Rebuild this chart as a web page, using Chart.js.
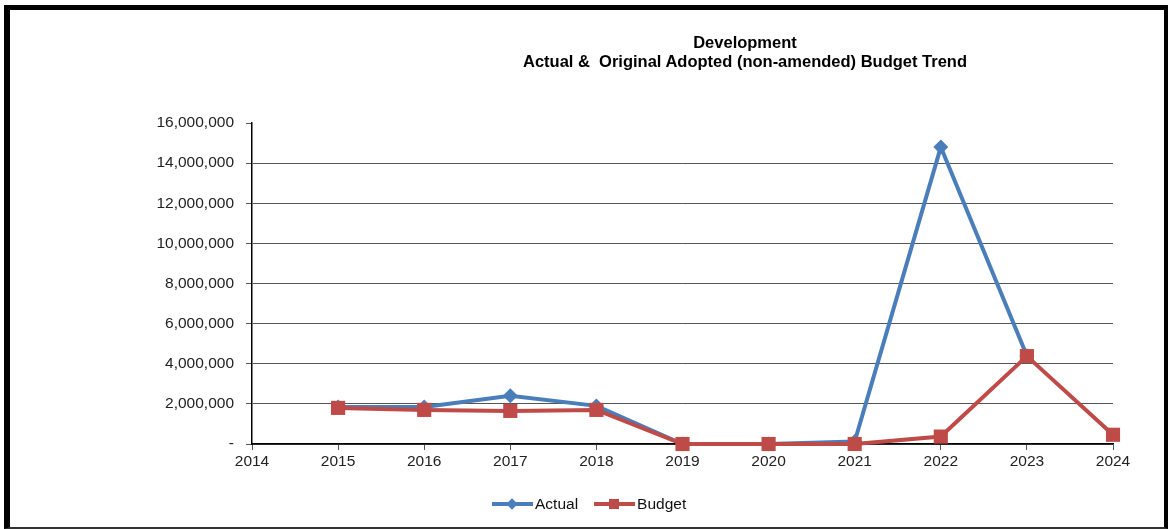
<!DOCTYPE html>
<html>
<head>
<meta charset="utf-8">
<script src="https://cdn.jsdelivr.net/npm/chart.js@4"></script>
<style>
  html, body { margin: 0; padding: 0; background: #fff; }
  #wrap { position: relative; width: 1168px; height: 529px; overflow: hidden; font-family: "Liberation Sans", Arial, sans-serif; }
  #frame { position: absolute; left: 4px; top: 5px; width: 1164px; height: 524px; box-sizing: border-box;
    border-left: 6px solid #000; border-top: 5px solid #000; border-right: 4px solid #000; border-bottom: 2px solid #333; }
  #title { position: absolute; left: 480px; width: 530px; top: 33px; text-align: center; font-weight: bold;
    font-size: 16.5px; line-height: 19px; color: #000; white-space: pre; }
  #legend { position: absolute; top: 495px; left: 492px; font-size: 15.5px; color: #111; display: flex; align-items: center; }
  .item { display: flex; align-items: center; margin-right: 16px; }
  .sw { position: relative; width: 41px; height: 18px; margin-right: 2px; }
  .sw .ln { position: absolute; left: 0; right: 0; top: 7px; height: 4px; }
  .sw .mk { position: absolute; }
  #c { position: absolute; left: 0; top: 0; }
</style>
</head>
<body>
<div id="wrap">
  <canvas id="c" width="1168" height="529"></canvas>
  <div id="title">Development
Actual &amp;  Original Adopted (non-amended) Budget Trend</div>
  <div id="legend">
    <div class="item"><div class="sw"><div class="ln" style="background:#4a7ebb"></div><div class="mk" style="left:16px;top:5px;width:8px;height:8px;background:#4a7ebb;transform:rotate(45deg)"></div></div>Actual</div>
    <div class="item"><div class="sw"><div class="ln" style="background:#be4b48"></div><div class="mk" style="left:15px;top:4px;width:10px;height:10px;background:#be4b48"></div></div>Budget</div>
  </div>
  <div id="frame"></div>
</div>
<script>
const years = ["2014", "2015", "2016", "2017", "2018", "2019", "2020", "2021", "2022", "2023", "2024"];
const actual = [null, 1850000, 1850000, 2400000, 1900000, 0, 0, 120000, 14800000, 4400000, null];
const budget = [null, 1800000, 1700000, 1650000, 1700000, 0, 0, 0, 370000, 4380000, 460000];
const yTicks = [0, 2000000, 4000000, 6000000, 8000000, 10000000, 12000000, 14000000, 16000000];

const blue = "#4a7ebb";
const red = "#be4b48";

new Chart(document.getElementById("c"), {
  type: "line",
  data: {
    labels: years,
    datasets: [
      {
        label: "Actual",
        data: actual,
        borderColor: blue,
        backgroundColor: blue,
        borderWidth: 4,
        pointStyle: "rectRot",
        pointRadius: 7.5,
        pointBorderWidth: 0,
        order: 2,
        tension: 0,
        clip: false,
      },
      {
        label: "Budget",
        data: budget,
        borderColor: red,
        backgroundColor: red,
        borderWidth: 4,
        pointStyle: "rect",
        pointRadius: 10,
        pointBorderWidth: 0,
        order: 1,
        tension: 0,
        clip: false,
      },
    ],
  },
  options: {
    responsive: false,
    animation: false,
    layout: { padding: { top: 123, right: 55, left: 0, bottom: 0 } },
    plugins: {
      legend: { display: false },
      title: { display: false },
      tooltip: { enabled: false },
    },
    scales: {
      x: {
        offset: false,
        afterFit: (scale) => { scale.height = 85; },
        grid: { drawOnChartArea: false, drawTicks: true, tickLength: 6, color: "#555" },
        border: { color: "#000", width: 1.5 },
        ticks: { font: { family: "Liberation Sans", size: 15.5 }, color: "#222", padding: 2, maxRotation: 0, autoSkip: false },
      },
      y: {
        min: 0,
        max: 16000000,
        afterFit: (scale) => { scale.width = 252; },
        afterBuildTicks: (scale) => { scale.ticks = yTicks.map((v) => ({ value: v })); },
        grid: {
          color: (ctx) => (ctx.tick && ctx.tick.value === 16000000 ? "rgba(0,0,0,0)" : "#555"),
          tickColor: "#555",
          tickLength: 6,
          lineWidth: 1,
        },
        border: { color: "#000", width: 1.5 },
        ticks: {
          font: { family: "Liberation Sans", size: 15.5 },
          color: "#222",
          padding: 12,
          callback: (v) => (v === 0 ? "-" : v.toLocaleString("en-US")),
        },
      },
    },
  },
});
</script>
</body>
</html>
